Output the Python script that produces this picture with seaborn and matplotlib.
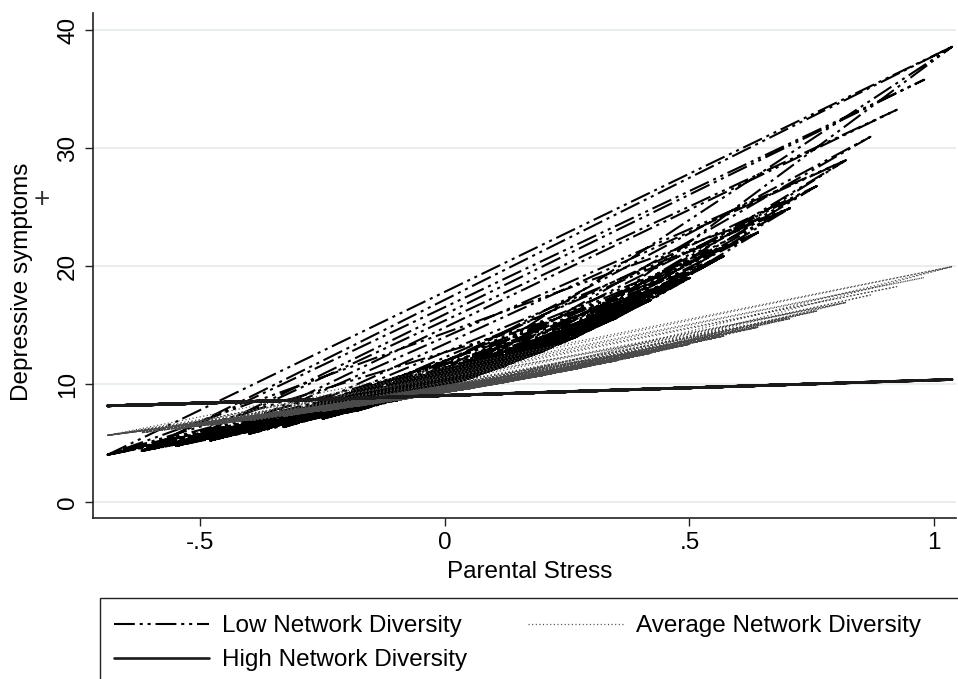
import matplotlib
matplotlib.use("Agg")
import matplotlib.pyplot as plt
import seaborn as sns
import pandas as pd
from matplotlib.lines import Line2D
from matplotlib.patches import Rectangle

# ---- data: predicted depressive symptoms at observed parental-stress levels ----
stress_levels = [-0.69, -0.62, -0.55, -0.48, -0.40, -0.33, -0.25, -0.18, -0.10, -0.03,
                 0.05, 0.12, 0.20, 0.27, 0.35, 0.42, 0.50, 0.57, 0.64, 0.705,
                 0.76, 0.82, 0.87, 0.924, 0.98, 1.037]
low_div = [4.00, 4.33, 4.75, 5.21, 5.79, 6.35, 7.06, 7.74, 8.60, 9.43,
           10.48, 11.50, 12.78, 14.02, 15.58, 17.09, 18.99, 20.83, 22.84, 24.89,
           26.77, 28.97, 30.95, 33.24, 35.79, 38.58]
avg_div = [5.65, 5.88, 6.18, 6.51, 6.90, 7.27, 7.70, 8.11, 8.60, 9.06,
           9.60, 10.11, 10.72, 11.29, 11.97, 12.60, 13.37, 14.07, 14.81, 15.54,
           16.18, 16.91, 17.54, 18.25, 19.02, 19.95]
high_div = [8.15, 8.21, 8.30, 8.39, 8.49, 8.59, 8.69, 8.78, 8.89, 8.98,
            9.09, 9.18, 9.28, 9.37, 9.48, 9.57, 9.68, 9.77, 9.86, 9.95,
            10.02, 10.10, 10.16, 10.23, 10.31, 10.38]
# observation order in the data set (lines drawn unsorted, as in the original)
obs_order = [0, 25, 1, 24, 2, 23, 3, 21, 4, 19, 0, 14, 6, 11, 3, 16, 5, 12, 8, 13,
             2, 10, 7, 15, 9, 17, 4, 12, 10, 6, 13, 1, 9, 14, 5, 18, 7, 11, 0, 16,
             8, 20, 6, 12, 3, 9, 11, 5, 14, 10, 2, 13, 7, 22, 9, 15, 8, 12, 9, 25,
             12, 10, 6, 17, 11, 3, 14, 7, 13, 0, 11, 8, 16, 4, 9, 12, 6, 15, 10, 1,
             12, 13, 5, 19, 9, 7, 14, 2, 11, 8, 18, 6, 10, 12, 4, 13, 11, 9, 15, 16,
             7, 1, 10, 3, 12, 0, 9, 14, 2, 8, 15, 5, 11, 13, 1, 7, 16, 3, 10, 4,
             14, 6, 9, 0, 12, 2, 15, 8, 13, 17, 10, 20, 12, 21, 11, 19, 13, 17, 9,
             16, 14, 18, 10, 15, 12, 17, 11, 16, 13, 15, 12, 14]
series_labels = ["Low Network Diversity", "Average Network Diversity", "High Network Diversity"]
x_ticks = [-0.5, 0, 0.5, 1]
x_ticklabels = ["-.5", "0", ".5", "1"]
y_ticks = [0, 10, 20, 30, 40]

df = pd.DataFrame({
    "stress": [stress_levels[i] for i in obs_order],
    "low": [low_div[i] for i in obs_order],
    "avg": [avg_div[i] for i in obs_order],
    "high": [high_div[i] for i in obs_order],
})

sns.set_style("white")
plt.rcParams["font.family"] = ["Liberation Sans", "DejaVu Sans"]
plt.rcParams["lines.scale_dashes"] = False
plt.rcParams["text.color"] = "black"
plt.rcParams["xtick.color"] = "black"
plt.rcParams["ytick.color"] = "black"
plt.rcParams["xtick.labelcolor"] = "black"
plt.rcParams["ytick.labelcolor"] = "black"

W, H = 958, 679
fig = plt.figure(figsize=(W / 100, H / 100), dpi=100)
ax = fig.add_axes([93 / W, 161 / H, (956 - 93) / W, (518 - 13) / H])

low_ls = (0, (15, 3.5, 2.2, 3.5, 2.2, 3.5))
avg_ls = (0, (0.8, 1.8))

sns.lineplot(data=df, x="stress", y="low", sort=False, estimator=None, ax=ax,
             color="black", lw=1.5, linestyle=low_ls)
sns.lineplot(data=df, x="stress", y="avg", sort=False, estimator=None, ax=ax,
             color="#4a4a4a", lw=0.9, linestyle=avg_ls)
sns.lineplot(data=df, x="stress", y="high", sort=False, estimator=None, ax=ax,
             color="#1a1a1a", lw=1.9, linestyle="-")

ax.set_xlim(-0.7198, 1.045)
ax.set_ylim(-1.356, 41.44)
ax.set_xticks(x_ticks)
ax.set_xticklabels(x_ticklabels)
ax.set_yticks(y_ticks)
ax.set_yticklabels([str(v) for v in y_ticks], rotation=90, va="center")
ax.yaxis.grid(True, color="#e4edf0", lw=1.3)
ax.xaxis.grid(False)
ax.set_axisbelow(True)
for s in ["top", "right"]:
    ax.spines[s].set_visible(False)
for s in ["left", "bottom"]:
    ax.spines[s].set_color("#222222")
    ax.spines[s].set_linewidth(1.2)
ax.tick_params(axis="both", direction="out", length=6, width=1.0, color="#222222",
               labelsize=17.5, pad=4, left=True, bottom=True, labelcolor="black")
ax.set_xlabel("")
ax.set_ylabel("")

fig.text(530 / W, 1 - 572 / H, "Parental Stress", fontsize=17.5, ha="center", va="center",
         color="black")
fig.text(22 / W, 1 - 282 / H, "Depressive symptoms", fontsize=17.5, rotation=90,
         ha="center", va="center", color="black")
fig.text(42 / W, 1 - 200 / H, "+", fontsize=20, ha="center", va="center", color="#333333",
         fontweight="light")

h_low = Line2D([], [], color="black", lw=1.5, linestyle=low_ls)
h_avg = Line2D([], [], color="#4a4a4a", lw=0.9, linestyle=avg_ls)
h_high = Line2D([], [], color="#1a1a1a", lw=1.9, linestyle="-")
leg = fig.legend(handles=[h_low, h_high, h_avg],
                 labels=[series_labels[0], series_labels[2], series_labels[1]],
                 ncol=2, loc="upper left", bbox_to_anchor=(114 / W, 1 - 615 / H),
                 frameon=False, fontsize=17.5, handlelength=3.9, handletextpad=0.55,
                 columnspacing=2.5, labelspacing=0.5, borderpad=0, borderaxespad=0)
for t in leg.get_texts():
    t.set_color("black")
fig.patches.append(Rectangle((100 / W, -0.05), 1.0, (1 - 598 / H) + 0.05,
                             transform=fig.transFigure, fill=False, ec="#222222", lw=1.0))

fig.savefig("out.png", dpi=100, facecolor="white")
